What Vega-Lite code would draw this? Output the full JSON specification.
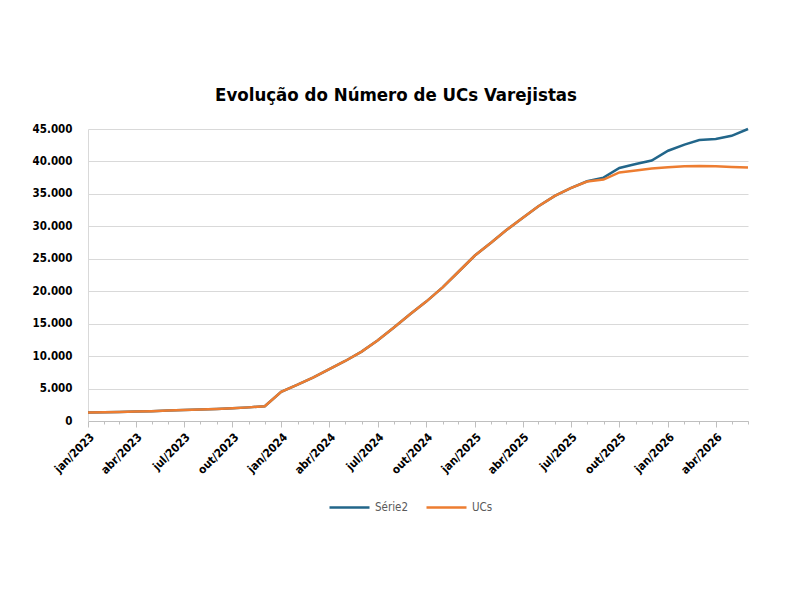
{
  "$schema": "https://vega.github.io/schema/vega-lite/v6.json",
  "description": "Evolução do Número de UCs Varejistas",
  "autosize": {"type": "none"},
  "width": 660,
  "height": 292,
  "padding": {"left": 88, "top": 129, "right": 52, "bottom": 179},
  "background": "white",
  "title": {
    "text": "Evolução do Número de UCs Varejistas",
    "font": "'DejaVu Sans Condensed', 'Liberation Sans', sans-serif",
    "fontSize": 18.5,
    "fontWeight": "bold",
    "color": "#000000",
    "anchor": "middle",
    "dx": -22,
    "offset": 19
  },
  "config": {
    "view": {"stroke": null},
    "font": "'DejaVu Sans Condensed', 'Liberation Sans', sans-serif",
    "locale": {
      "number": {"decimal": ",", "thousands": ".", "grouping": [3], "currency": ["R$ ", ""]},
      "time": {
        "dateTime": "%A, %e de %B de %Y. %X",
        "date": "%d/%m/%Y",
        "time": "%H:%M:%S",
        "periods": ["AM", "PM"],
        "days": ["Domingo", "Segunda", "Terça", "Quarta", "Quinta", "Sexta", "Sábado"],
        "shortDays": ["Dom", "Seg", "Ter", "Qua", "Qui", "Sex", "Sáb"],
        "months": ["janeiro", "fevereiro", "março", "abril", "maio", "junho", "julho", "agosto", "setembro", "outubro", "novembro", "dezembro"],
        "shortMonths": ["jan", "fev", "mar", "abr", "mai", "jun", "jul", "ago", "set", "out", "nov", "dez"]
      }
    }
  },
  "data": {
    "values": [
      {"mes": "2023-01-01", "serie": "Série2", "valor": 1300}, {"mes": "2023-01-01", "serie": "UCs", "valor": 1300},
      {"mes": "2023-02-01", "serie": "Série2", "valor": 1330}, {"mes": "2023-02-01", "serie": "UCs", "valor": 1330},
      {"mes": "2023-03-01", "serie": "Série2", "valor": 1380}, {"mes": "2023-03-01", "serie": "UCs", "valor": 1380},
      {"mes": "2023-04-01", "serie": "Série2", "valor": 1450}, {"mes": "2023-04-01", "serie": "UCs", "valor": 1450},
      {"mes": "2023-05-01", "serie": "Série2", "valor": 1520}, {"mes": "2023-05-01", "serie": "UCs", "valor": 1520},
      {"mes": "2023-06-01", "serie": "Série2", "valor": 1600}, {"mes": "2023-06-01", "serie": "UCs", "valor": 1600},
      {"mes": "2023-07-01", "serie": "Série2", "valor": 1680}, {"mes": "2023-07-01", "serie": "UCs", "valor": 1680},
      {"mes": "2023-08-01", "serie": "Série2", "valor": 1760}, {"mes": "2023-08-01", "serie": "UCs", "valor": 1760},
      {"mes": "2023-09-01", "serie": "Série2", "valor": 1850}, {"mes": "2023-09-01", "serie": "UCs", "valor": 1850},
      {"mes": "2023-10-01", "serie": "Série2", "valor": 1950}, {"mes": "2023-10-01", "serie": "UCs", "valor": 1950},
      {"mes": "2023-11-01", "serie": "Série2", "valor": 2100}, {"mes": "2023-11-01", "serie": "UCs", "valor": 2100},
      {"mes": "2023-12-01", "serie": "Série2", "valor": 2280}, {"mes": "2023-12-01", "serie": "UCs", "valor": 2280},
      {"mes": "2024-01-01", "serie": "Série2", "valor": 4500}, {"mes": "2024-01-01", "serie": "UCs", "valor": 4500},
      {"mes": "2024-02-01", "serie": "Série2", "valor": 5600}, {"mes": "2024-02-01", "serie": "UCs", "valor": 5600},
      {"mes": "2024-03-01", "serie": "Série2", "valor": 6700}, {"mes": "2024-03-01", "serie": "UCs", "valor": 6700},
      {"mes": "2024-04-01", "serie": "Série2", "valor": 8000}, {"mes": "2024-04-01", "serie": "UCs", "valor": 8000},
      {"mes": "2024-05-01", "serie": "Série2", "valor": 9250}, {"mes": "2024-05-01", "serie": "UCs", "valor": 9250},
      {"mes": "2024-06-01", "serie": "Série2", "valor": 10700}, {"mes": "2024-06-01", "serie": "UCs", "valor": 10700},
      {"mes": "2024-07-01", "serie": "Série2", "valor": 12400}, {"mes": "2024-07-01", "serie": "UCs", "valor": 12400},
      {"mes": "2024-08-01", "serie": "Série2", "valor": 14400}, {"mes": "2024-08-01", "serie": "UCs", "valor": 14400},
      {"mes": "2024-09-01", "serie": "Série2", "valor": 16500}, {"mes": "2024-09-01", "serie": "UCs", "valor": 16500},
      {"mes": "2024-10-01", "serie": "Série2", "valor": 18400}, {"mes": "2024-10-01", "serie": "UCs", "valor": 18400},
      {"mes": "2024-11-01", "serie": "Série2", "valor": 20600}, {"mes": "2024-11-01", "serie": "UCs", "valor": 20600},
      {"mes": "2024-12-01", "serie": "Série2", "valor": 23000}, {"mes": "2024-12-01", "serie": "UCs", "valor": 23000},
      {"mes": "2025-01-01", "serie": "Série2", "valor": 25500}, {"mes": "2025-01-01", "serie": "UCs", "valor": 25500},
      {"mes": "2025-02-01", "serie": "Série2", "valor": 27500}, {"mes": "2025-02-01", "serie": "UCs", "valor": 27500},
      {"mes": "2025-03-01", "serie": "Série2", "valor": 29400}, {"mes": "2025-03-01", "serie": "UCs", "valor": 29400},
      {"mes": "2025-04-01", "serie": "Série2", "valor": 31300}, {"mes": "2025-04-01", "serie": "UCs", "valor": 31300},
      {"mes": "2025-05-01", "serie": "Série2", "valor": 33100}, {"mes": "2025-05-01", "serie": "UCs", "valor": 33100},
      {"mes": "2025-06-01", "serie": "Série2", "valor": 34700}, {"mes": "2025-06-01", "serie": "UCs", "valor": 34700},
      {"mes": "2025-07-01", "serie": "Série2", "valor": 35900}, {"mes": "2025-07-01", "serie": "UCs", "valor": 35900},
      {"mes": "2025-08-01", "serie": "Série2", "valor": 36950}, {"mes": "2025-08-01", "serie": "UCs", "valor": 36900},
      {"mes": "2025-09-01", "serie": "Série2", "valor": 37500}, {"mes": "2025-09-01", "serie": "UCs", "valor": 37200},
      {"mes": "2025-10-01", "serie": "Série2", "valor": 39000}, {"mes": "2025-10-01", "serie": "UCs", "valor": 38300},
      {"mes": "2025-11-01", "serie": "Série2", "valor": 39600}, {"mes": "2025-11-01", "serie": "UCs", "valor": 38600},
      {"mes": "2025-12-01", "serie": "Série2", "valor": 40150}, {"mes": "2025-12-01", "serie": "UCs", "valor": 38900},
      {"mes": "2026-01-01", "serie": "Série2", "valor": 41650}, {"mes": "2026-01-01", "serie": "UCs", "valor": 39100},
      {"mes": "2026-02-01", "serie": "Série2", "valor": 42600}, {"mes": "2026-02-01", "serie": "UCs", "valor": 39250},
      {"mes": "2026-03-01", "serie": "Série2", "valor": 43300}, {"mes": "2026-03-01", "serie": "UCs", "valor": 39300},
      {"mes": "2026-04-01", "serie": "Série2", "valor": 43450}, {"mes": "2026-04-01", "serie": "UCs", "valor": 39250},
      {"mes": "2026-05-01", "serie": "Série2", "valor": 43950}, {"mes": "2026-05-01", "serie": "UCs", "valor": 39150},
      {"mes": "2026-06-01", "serie": "Série2", "valor": 45000}, {"mes": "2026-06-01", "serie": "UCs", "valor": 39050}
    ]
  },
  "encoding": {
    "y": {
      "field": "valor",
      "type": "quantitative",
      "scale": {"domain": [0, 45000], "nice": false},
      "axis": {
        "title": null,
        "values": [0, 5000, 10000, 15000, 20000, 25000, 30000, 35000, 40000, 45000],
        "format": ",d",
        "labelFontSize": 11.5,
        "labelFontWeight": "bold",
        "labelColor": "#000000",
        "labelPadding": 16,
        "tickSize": 0,
        "domainColor": "#d9d9d9",
        "gridColor": "#d9d9d9",
        "gridWidth": 1
      }
    },
    "color": {
      "field": "serie",
      "type": "nominal",
      "scale": {"domain": ["Série2", "UCs"], "range": ["#22668a", "#ed7d31"]},
      "legend": {
        "title": null,
        "orient": "none",
        "legendX": 240,
        "legendY": 357,
        "direction": "horizontal",
        "symbolType": "stroke",
        "symbolSize": 1600,
        "symbolStrokeWidth": 2.5,
        "labelFontSize": 11.5,
        "labelColor": "#595959",
        "labelOffset": 4,
        "columnPadding": 12
      }
    }
  },
  "layer": [
    {
      "transform": [{"filter": "datum.serie === 'Série2'"}],
      "mark": {"type": "line", "strokeWidth": 2.5},
      "encoding": {
        "x": {
          "field": "mes",
          "type": "temporal",
          "scale": {
            "type": "utc",
            "nice": false,
            "domain": [{"year": 2023, "month": 1, "date": 1, "utc": true}, {"year": 2026, "month": 6, "date": 1, "utc": true}]
          },
          "axis": {
            "orient": "bottom",
            "title": null,
            "grid": false,
            "tickCount": {"interval": "month", "step": 3},
            "format": "%b/%Y",
            "labelAngle": -45,
            "labelFontSize": 11.5,
            "labelFontWeight": "bold",
            "labelColor": "#000000",
            "labelOverlap": false,
            "labelFlush": false,
            "labelPadding": 4,
            "tickSize": 6,
            "tickColor": "#bfbfbf",
            "domainColor": "#bfbfbf"
          }
        }
      }
    },
    {
      "transform": [{"filter": "datum.serie === 'UCs'"}],
      "mark": {"type": "line", "strokeWidth": 2.5},
      "encoding": {
        "x": {
          "field": "mes",
          "type": "temporal",
          "scale": {
            "type": "utc",
            "nice": false,
            "domain": [{"year": 2023, "month": 1, "date": 1, "utc": true}, {"year": 2026, "month": 6, "date": 1, "utc": true}]
          },
          "axis": {
            "orient": "bottom",
            "title": null,
            "grid": false,
            "labels": false,
            "domain": false,
            "tickCount": {"interval": "month", "step": 1},
            "tickSize": 3,
            "tickColor": "#bfbfbf"
          }
        }
      }
    }
  ],
  "resolve": {"axis": {"x": "independent"}}
}
